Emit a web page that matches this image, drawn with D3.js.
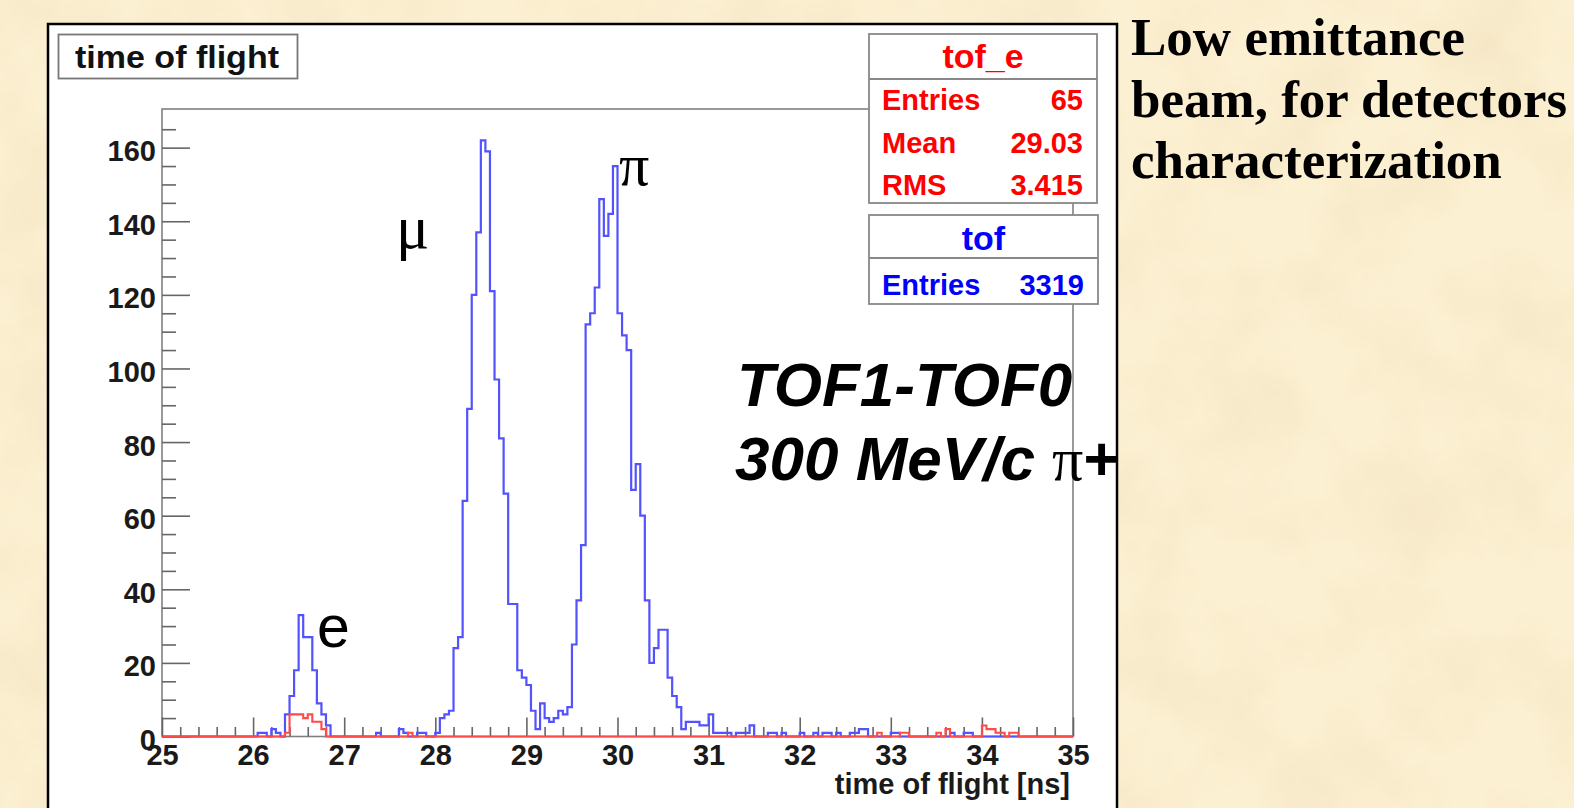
<!DOCTYPE html>
<html>
<head>
<meta charset="utf-8">
<script src="https://cdn.jsdelivr.net/npm/d3@7"></script>
<style>
html, body { margin: 0; padding: 0; overflow: hidden; background: #fbeecb; }
svg { display: block; }
</style>
</head>
<body>
<div id="chart"></div>
<script>
// time of flight histogram, 200 bins of 0.05 ns between 25 and 35 ns
const xMin = 25, xMax = 35, binWidth = 0.05;

// counts, one row per 1 ns (20 bins)
const tofCounts = [
  0, 0, 0, 0, 0, 0, 0, 0, 0, 0, 0, 0, 0, 0, 0, 0, 0, 0, 0, 0,
  0, 1, 1, 0, 2, 1, 0, 6, 11, 18, 33, 27, 27, 18, 9, 6, 3, 0, 0, 0,
  0, 0, 0, 0, 0, 0, 0, 1, 0, 0, 0, 0, 2, 1, 0, 0, 1, 1, 0, 0,
  1, 5, 6, 7, 24, 27, 64, 89, 120, 137, 162, 159, 121, 97, 81, 66, 36, 36, 18, 16,
  14, 7, 2, 9, 5, 4, 5, 7, 6, 8, 25, 37, 52, 112, 115, 122, 146, 136, 142, 155,
  115, 109, 105, 67, 74, 60, 37, 20, 24, 29, 29, 16, 11, 8, 2, 4, 4, 4, 3, 3,
  6, 1, 1, 1, 1, 0, 1, 1, 1, 3, 0, 0, 0, 1, 1, 0, 1, 0, 0, 0,
  1, 0, 0, 1, 0, 1, 1, 0, 1, 0, 0, 1, 1, 2, 2, 0, 0, 0, 0, 0,
  1, 1, 0, 0, 0, 0, 0, 0, 0, 0, 0, 0, 0, 1, 0, 0, 1, 1, 0, 0,
  0, 0, 0, 0, 0, 0, 0, 0, 0, 0, 0, 0, 0, 0, 0, 0, 0, 0, 0, 0
];

const tofECounts = [
  0, 0, 0, 0, 0, 0, 0, 0, 0, 0, 0, 0, 0, 0, 0, 0, 0, 0, 0, 0,
  0, 0, 0, 0, 0, 0, 0, 1, 6, 6, 6, 5, 6, 4, 4, 2, 0, 0, 0, 0,
  0, 0, 0, 0, 0, 0, 0, 0, 0, 0, 0, 0, 0, 0, 1, 0, 0, 0, 0, 0,
  0, 0, 0, 0, 0, 0, 0, 0, 0, 0, 0, 0, 0, 0, 0, 0, 0, 0, 0, 0,
  0, 0, 0, 0, 0, 0, 0, 0, 0, 0, 0, 0, 0, 0, 0, 0, 0, 0, 0, 0,
  0, 0, 0, 0, 0, 0, 0, 0, 0, 0, 0, 0, 0, 0, 0, 0, 0, 0, 0, 0,
  0, 0, 0, 0, 0, 0, 0, 0, 0, 0, 0, 0, 0, 0, 0, 0, 0, 0, 0, 0,
  0, 0, 0, 0, 0, 0, 0, 0, 0, 0, 0, 0, 0, 0, 0, 0, 0, 1, 0, 0,
  0, 0, 1, 1, 0, 0, 0, 0, 0, 0, 1, 0, 2, 0, 0, 0, 0, 0, 0, 0,
  3, 2, 2, 1, 1, 0, 1, 1, 0, 0, 0, 0, 0, 0, 0, 0, 0, 0, 0, 0
];

const xTicks = [25, 26, 27, 28, 29, 30, 31, 32, 33, 34, 35];
const yTicks = [0, 20, 40, 60, 80, 100, 120, 140, 160];

const statsE = [["Entries", "65"], ["Mean", "29.03"], ["RMS", "3.415"]];
const statsAll = [["Entries", "3319"]];
const sideNote = ["Low emittance", "beam, for detectors", "characterization"];

const W = 1574, H = 808;
const sans = "'Liberation Sans', Arial, Helvetica, sans-serif";
const serif = "'Liberation Serif', 'Times New Roman', serif";

const svg = d3.select("#chart").append("svg")
    .attr("width", W)
    .attr("height", H);

// parchment background
const defs = svg.append("defs");
const parch = defs.append("filter").attr("id", "parch")
    .attr("x", 0).attr("y", 0).attr("width", "100%").attr("height", "100%");
parch.append("feTurbulence")
    .attr("type", "fractalNoise")
    .attr("baseFrequency", "0.011")
    .attr("numOctaves", 4)
    .attr("seed", 7)
    .attr("result", "noise");
parch.append("feColorMatrix")
    .attr("in", "noise")
    .attr("type", "matrix")
    .attr("values", "0 0 0 0 0.88  0 0 0 0 0.76  0 0 0 0 0.52  1.1 0 0 0 -0.42");

svg.append("rect").attr("width", W).attr("height", H).attr("fill", "#fcf0d2");
svg.append("rect").attr("width", W).attr("height", H).attr("filter", "url(#parch)");

// ROOT canvas
svg.append("rect")
    .attr("x", 48).attr("y", 24)
    .attr("width", 1069).attr("height", 900)
    .attr("fill", "#ffffff")
    .attr("stroke", "#000")
    .attr("stroke-width", 2.5);

// title box
svg.append("rect")
    .attr("x", 58.5).attr("y", 34.5)
    .attr("width", 239).attr("height", 44)
    .attr("fill", "#fff")
    .attr("stroke", "#777")
    .attr("stroke-width", 1.8);
svg.append("text")
    .attr("x", 75).attr("y", 68)
    .attr("font-family", sans)
    .attr("font-weight", "bold")
    .attr("font-size", 31)
    .attr("fill", "#111")
    .attr("textLength", 204)
    .attr("lengthAdjust", "spacingAndGlyphs")
    .text("time of flight");

// scales
const plot = { left: 162, right: 1073, top: 109, bottom: 736.5 };
const x = d3.scaleLinear().domain([xMin, xMax]).range([plot.left, plot.right]);
const y = d3.scaleLinear().domain([0, 170.5]).range([plot.bottom, plot.top]);

// frame
svg.append("rect")
    .attr("x", plot.left).attr("y", plot.top)
    .attr("width", plot.right - plot.left)
    .attr("height", plot.bottom - plot.top)
    .attr("fill", "none")
    .attr("stroke", "#808080")
    .attr("stroke-width", 1.6);

function styleAxis(g, size) {
    g.select(".domain").remove();
    g.selectAll("line").attr("stroke", "#666").attr("stroke-width", 1.6);
    g.selectAll("text")
        .attr("font-family", sans)
        .attr("font-weight", "bold")
        .attr("font-size", size)
        .attr("fill", "#1a1a1a");
}

// minor ticks
const yMinor = d3.range(0, 170, 5).filter(v => v % 20 !== 0);
const xMinor = d3.range(xMin, xMax + 0.001, 0.2).filter(v => Math.abs(v - Math.round(v)) > 0.01);

svg.append("g")
    .attr("transform", `translate(${plot.left},0)`)
    .call(d3.axisLeft(y).tickValues(yMinor).tickSizeInner(-14).tickSizeOuter(0).tickFormat(""))
    .call(g => styleAxis(g, 28));

svg.append("g")
    .attr("transform", `translate(0,${plot.bottom})`)
    .call(d3.axisBottom(x).tickValues(xMinor).tickSizeInner(-9.5).tickSizeOuter(0).tickFormat(""))
    .call(g => styleAxis(g, 28));

// major ticks and labels
svg.append("g")
    .attr("transform", `translate(${plot.left},0)`)
    .call(d3.axisLeft(y).tickValues(yTicks).tickSizeInner(-28).tickSizeOuter(0).tickPadding(6))
    .call(g => styleAxis(g, 29))
    .call(g => g.selectAll("text").attr("dy", "0.45em"));

svg.append("g")
    .attr("transform", `translate(0,${plot.bottom})`)
    .call(d3.axisBottom(x).tickValues(xTicks).tickSizeInner(-19).tickSizeOuter(0).tickPadding(8))
    .call(g => styleAxis(g, 29));

svg.append("text")
    .attr("x", 1070).attr("y", 794)
    .attr("text-anchor", "end")
    .attr("font-family", sans)
    .attr("font-weight", "bold")
    .attr("font-size", 29)
    .attr("fill", "#1a1a1a")
    .text("time of flight [ns]");

// histograms
const histLine = d3.line()
    .x(d => x(d[0]))
    .y(d => y(d[1]))
    .curve(d3.curveStepAfter);

function outline(counts) {
    const pts = counts.map((c, i) => [xMin + i * binWidth, c]);
    pts.push([xMax, 0]);
    return pts;
}

svg.append("path")
    .attr("d", histLine(outline(tofCounts)))
    .attr("fill", "none")
    .attr("stroke", "#5252ff")
    .attr("stroke-width", 2.2);

svg.append("path")
    .attr("d", histLine(outline(tofECounts)))
    .attr("fill", "none")
    .attr("stroke", "#ff4a4a")
    .attr("stroke-width", 2.1);

// particle labels
svg.append("text")
    .attr("x", 396).attr("y", 248)
    .attr("font-family", serif)
    .attr("font-size", 62)
    .attr("fill", "#000")
    .text("\u03BC");

svg.append("text")
    .attr("x", 619).attr("y", 185)
    .attr("font-family", serif)
    .attr("font-size", 60)
    .attr("fill", "#000")
    .text("\u03C0");

svg.append("text")
    .attr("x", 317).attr("y", 647)
    .attr("font-family", sans)
    .attr("font-size", 59)
    .attr("fill", "#000")
    .text("e");

// stats boxes
function statsBox(x0, y0, w, headH, h, title, rows, color, titleBase, rowBases) {
    const g = svg.append("g");
    g.append("rect")
        .attr("x", x0).attr("y", y0)
        .attr("width", w).attr("height", h)
        .attr("fill", "#fff")
        .attr("stroke", "#888")
        .attr("stroke-width", 1.8);
    g.append("line")
        .attr("x1", x0).attr("x2", x0 + w)
        .attr("y1", y0 + headH).attr("y2", y0 + headH)
        .attr("stroke", "#888")
        .attr("stroke-width", 1.8);
    g.append("text")
        .attr("x", x0 + w / 2).attr("y", titleBase)
        .attr("text-anchor", "middle")
        .attr("font-family", sans)
        .attr("font-weight", "bold")
        .attr("font-size", 34)
        .attr("fill", color)
        .text(title);
    rows.forEach((r, i) => {
        g.append("text")
            .attr("x", x0 + 13).attr("y", rowBases[i])
            .attr("font-family", sans)
            .attr("font-weight", "bold")
            .attr("font-size", 29)
            .attr("fill", color)
            .text(r[0]);
        g.append("text")
            .attr("x", x0 + w - 14).attr("y", rowBases[i])
            .attr("text-anchor", "end")
            .attr("font-family", sans)
            .attr("font-weight", "bold")
            .attr("font-size", 29)
            .attr("fill", color)
            .text(r[1]);
    });
}

statsBox(869, 34, 228, 45, 169, "tof_e", statsE, "#ff0000", 68, [110, 153, 195]);
statsBox(869, 215, 229, 43, 89, "tof", statsAll, "#0000ff", 250, [295]);

// beam annotation
svg.append("text")
    .attr("x", 737).attr("y", 406)
    .attr("font-family", sans)
    .attr("font-weight", "bold")
    .attr("font-style", "italic")
    .attr("font-size", 62)
    .attr("fill", "#000")
    .text("TOF1-TOF0");

const beam = svg.append("text")
    .attr("x", 735).attr("y", 480)
    .attr("font-family", sans)
    .attr("font-weight", "bold")
    .attr("font-size", 62)
    .attr("fill", "#000");
beam.append("tspan").attr("font-style", "italic").text("300 MeV/c ");
beam.append("tspan").attr("font-family", serif).attr("font-weight", "normal").text("\u03C0");
beam.append("tspan").text("+");

// side note
svg.append("g").selectAll("text")
    .data(sideNote)
    .join("text")
    .attr("x", 1131)
    .attr("y", (d, i) => 55 + i * 61.5)
    .attr("font-family", serif)
    .attr("font-weight", "bold")
    .attr("font-size", 53)
    .attr("fill", "#000")
    .text(d => d);
</script>
</body>
</html>
